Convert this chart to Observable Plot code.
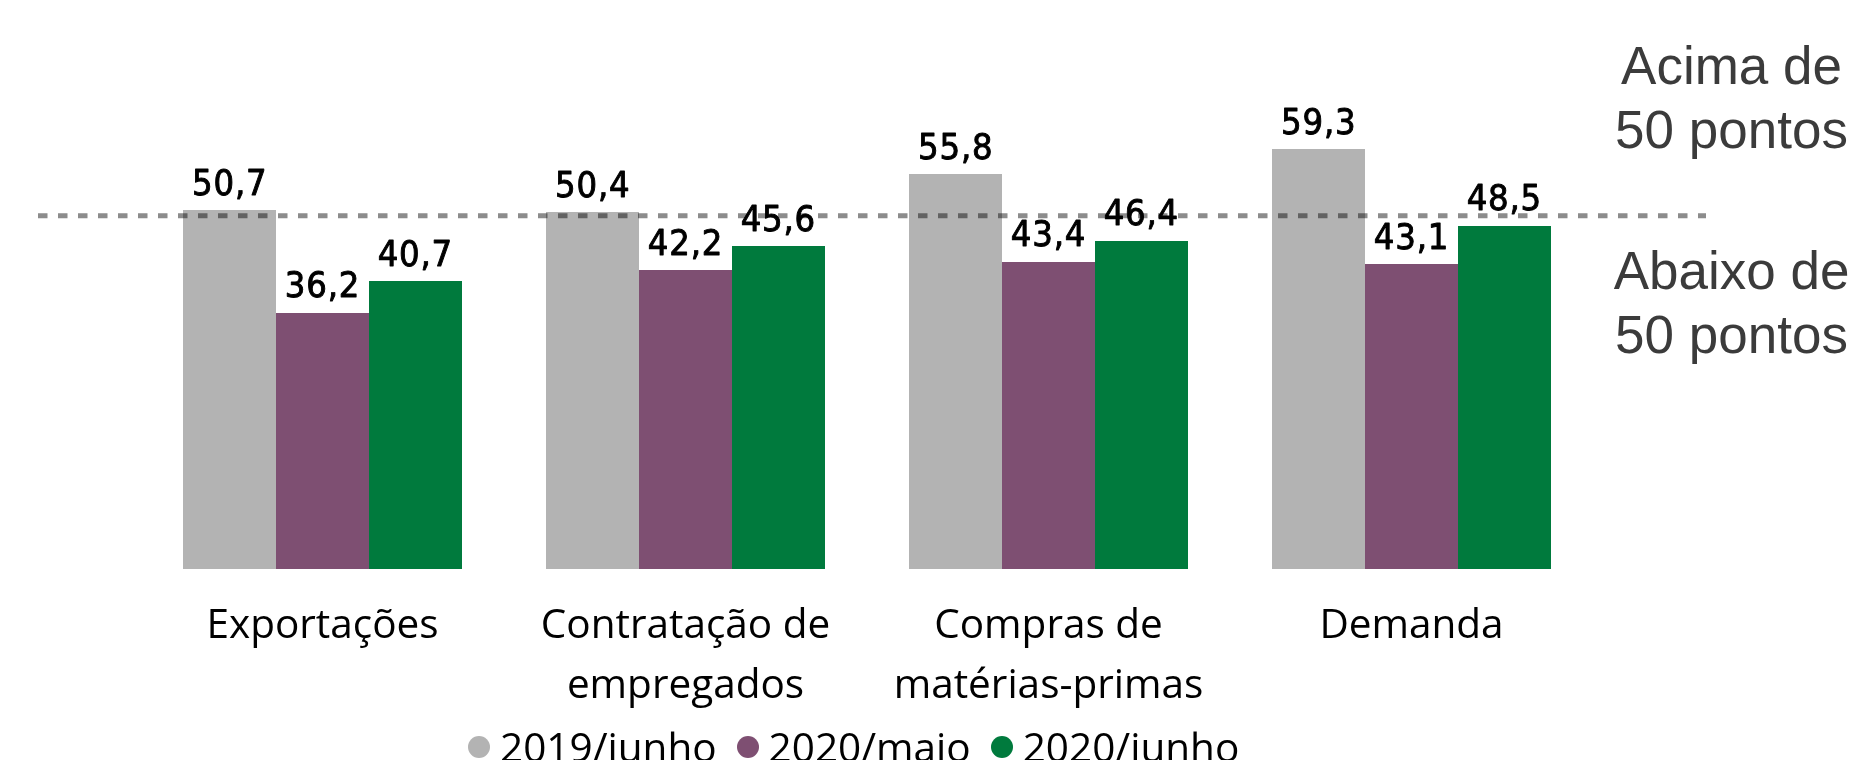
<!DOCTYPE html>
<html>
<head>
<meta charset="utf-8">
<script src="https://cdn.jsdelivr.net/npm/d3@7"></script>
<script src="https://cdn.jsdelivr.net/npm/@observablehq/plot@0.6"></script>
<style>
  html, body { margin: 0; padding: 0; background: #fff; overflow: hidden; }
  #chart { position: relative; width: 1858px; height: 760px; }
  #chart svg { position: absolute; left: 0; top: 0; overflow: visible; }
  .vlabel { letter-spacing: 0.8px; }
  #legend { position: absolute; left: 468px; top: 726px; display: flex; align-items: center;
            font-family: "Open Sans", "Noto Sans", sans-serif; font-size: 40.5px; line-height: 42px; color: #000; white-space: nowrap; }
  #legend .item { display: flex; align-items: center; margin-right: 20px; }
  #legend .sw { width: 22px; height: 22px; border-radius: 50%; margin-right: 10px; }
</style>
</head>
<body>
<div id="chart"></div>
<script>
// ---- data ----
const categories = ["Exportações", "Contratação de\nempregados", "Compras de\nmatérias-primas", "Demanda"];
const seriesNames = ["2019/junho", "2020/maio", "2020/junho"];
const values2019Junho = [50.7, 50.4, 55.8, 59.3];
const values2020Maio = [36.2, 42.2, 43.4, 43.1];
const values2020Junho = [40.7, 45.6, 46.4, 48.5];
const seriesColors = ["#b3b3b3", "#7e4f72", "#007a3d"];
const threshold = 50;
const thresholdLabels = ["Acima de\n50 pontos", "Abaixo de\n50 pontos"];

const seriesValues = [values2019Junho, values2020Maio, values2020Junho];
const rows = seriesNames.flatMap((s, i) =>
  categories.map((c, j) => ({category: c, series: s, value: seriesValues[i][j]})));

// ---- layout ----
const W = 1858, H = 718;
const marginLeft = 36, marginRight = 152, marginTop = 144.5, marginBottom = 149;
const paddingInner = 0.2352, paddingOuter = 0.412, align = 0.483;
const band = d3.scaleBand().domain(categories).range([marginLeft, W - marginRight])
  .paddingInner(paddingInner).paddingOuter(paddingOuter).align(align);
const sub = band.bandwidth() / seriesNames.length;
const fmt = v => v.toFixed(1).replace(".", ",");

const marks = [];
seriesNames.forEach((s, i) => {
  const data = rows.filter(d => d.series === s);
  marks.push(Plot.barY(data, {
    x: "category", y: "value", fill: "series",
    insetLeft: i * sub, insetRight: (seriesNames.length - 1 - i) * sub - 0.6,
    shapeRendering: "crispEdges"
  }));
});
marks.push(Plot.ruleY([threshold], {
  stroke: "#8c8c8c", strokeWidth: 5, strokeDasharray: "9.5,10.5", strokeDashoffset: 18,
  mixBlendMode: "multiply"
}));
seriesNames.forEach((s, i) => {
  const data = rows.filter(d => d.series === s);
  marks.push(Plot.text(data, {
    x: "category", y: "value", text: d => fmt(d.value),
    dx: (i - (seriesNames.length - 1) / 2) * sub, dy: -16, lineAnchor: "bottom",
    fontFamily: '"DejaVu Sans Condensed", "DejaVu Sans", sans-serif', fontSize: 36,
    fill: "#000", stroke: "#000", strokeWidth: 0.9, className: "vlabel"
  }));
});
marks.push(Plot.text(categories, {
  x: d => d, frameAnchor: "bottom", dy: 25, lineAnchor: "top", lineHeight: 1.5,
  fontFamily: '"Open Sans", "Noto Sans", sans-serif', fontSize: 40.5, fill: "#000"
}));
marks.push(Plot.text([thresholdLabels[0]], {
  frameAnchor: "right", y: () => threshold, dx: 25, dy: -68, lineAnchor: "bottom",
  lineHeight: 1.21, textAnchor: "middle",
  fontFamily: '"Liberation Sans", Arial, sans-serif', fontSize: 53, fill: "#3b3b3b"
}));
marks.push(Plot.text([thresholdLabels[1]], {
  frameAnchor: "right", y: () => threshold, dx: 25, dy: 137, lineAnchor: "bottom",
  lineHeight: 1.21, textAnchor: "middle",
  fontFamily: '"Liberation Sans", Arial, sans-serif', fontSize: 53, fill: "#3b3b3b"
}));

const chart = Plot.plot({
  width: W, height: H,
  marginLeft, marginRight, marginTop, marginBottom,
  x: {domain: categories, paddingInner, paddingOuter, align, axis: null},
  y: {domain: [0, 60], axis: null},
  color: {domain: seriesNames, range: seriesColors},
  style: {background: "#fff", fontFamily: '"Open Sans", sans-serif', overflow: "visible"},
  marks
});
document.getElementById("chart").appendChild(chart);
d3.select(chart).selectAll(".vlabel").style("font-stretch", "condensed");

// ---- legend ----
const legend = d3.select("#chart").append("div").attr("id", "legend");
seriesNames.forEach((s, i) => {
  const it = legend.append("div").attr("class", "item");
  it.append("span").attr("class", "sw").style("background", seriesColors[i]);
  it.append("span").text(s);
});
</script>
</body>
</html>
